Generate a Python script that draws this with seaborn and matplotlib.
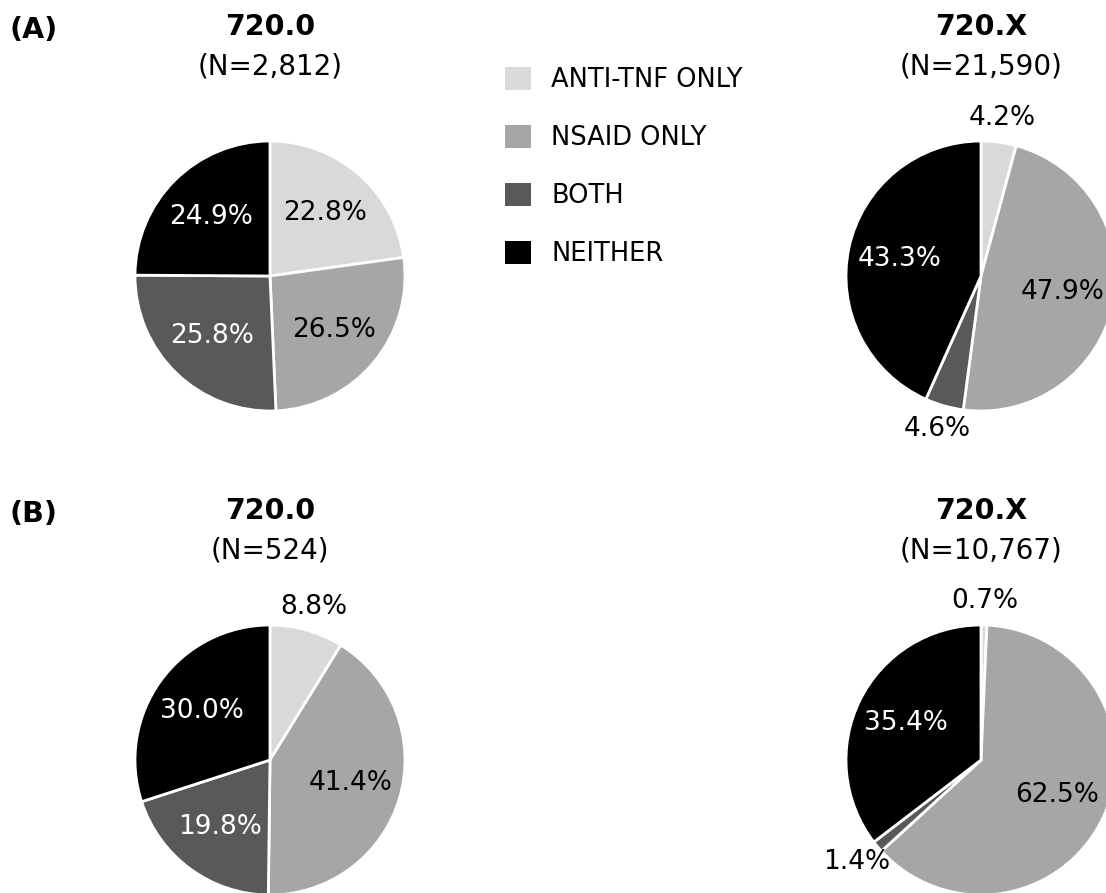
import numpy as np
import pandas as pd
import matplotlib
matplotlib.use("Agg")
import matplotlib.pyplot as plt
from matplotlib.patches import Patch
import seaborn as sns

# ---- data ----
categories = ["ANTI-TNF ONLY", "NSAID ONLY", "BOTH", "NEITHER"]
a_720_0 = [22.8, 26.5, 25.8, 24.9]
a_720_x = [4.2, 47.9, 4.6, 43.3]
b_720_0 = [8.8, 41.4, 19.8, 30.0]
b_720_x = [0.7, 62.5, 1.4, 35.4]
titles = ["720.0", "720.X", "720.0", "720.X"]
n_labels = ["(N=2,812)", "(N=21,590)", "(N=524)", "(N=10,767)"]
panel_labels = ["(A)", "(B)"]

sns.set_theme(style="white")
plt.rcParams['font.family'] = ['DejaVu Sans']
plt.rcParams['text.color'] = 'black'

palette = sns.color_palette(["#d9d9d9", "#a6a6a6", "#595959", "#000000"])
text_colors = ["black", "black", "white", "white"]

W, H = 1106, 893
fig = plt.figure(figsize=(W / 100, H / 100), dpi=100)
fig.patch.set_facecolor("white")

R = 135
centers = [(270, 276), (981, 276), (270, 760), (981, 760)]
datasets = [a_720_0, a_720_x, b_720_0, b_720_x]

for (cx, cy), vals, t, n in zip(centers, datasets, titles, n_labels):
    ax = fig.add_axes([(cx - R) / W, 1 - (cy + R) / H, 2 * R / W, 2 * R / H])
    wedges, _, autotexts = ax.pie(
        vals, colors=palette, startangle=90, counterclock=False, radius=1,
        autopct="%.1f%%", pctdistance=0.62,
        wedgeprops=dict(edgecolor="white", linewidth=2),
        textprops=dict(fontsize=19))
    ax.set_xlim(-1, 1)
    ax.set_ylim(-1, 1)
    ax.set_aspect("equal")
    ax.axis("off")
    for w in wedges:
        w.set_clip_on(False)
    for i, (w, txt, v) in enumerate(zip(wedges, autotexts, vals)):
        txt.set_color(text_colors[i])
        txt.set_clip_on(False)
        if v < 10:
            mid = np.deg2rad((w.theta1 + w.theta2) / 2)
            txt.set_position((1.2 * np.cos(mid), 1.18 * np.sin(mid)))
            txt.set_color("black")
    fig.text(cx / W, 1 - (cy - 249) / H, t, ha="center", va="center",
             fontsize=20.5, fontweight="bold", color="black")
    fig.text(cx / W, 1 - (cy - 209) / H, n, ha="center", va="center",
             fontsize=20, color="black")

for lab, cy in zip(panel_labels, [276, 760]):
    fig.text(10 / W, 1 - (cy - 246) / H, lab, ha="left", va="center",
             fontsize=20.5, fontweight="bold", color="black")

handles = [Patch(facecolor=c, edgecolor="none") for c in palette]
fig.legend(handles=handles, labels=categories, loc="upper left",
           bbox_to_anchor=(505 / W, 1 - 67 / H), frameon=False,
           fontsize=18.5, handlelength=1.0, handleheight=1.0,
           handletextpad=0.8, labelspacing=1.23, borderpad=0,
           borderaxespad=0, labelcolor="black")

fig.savefig("out.png", dpi=100, facecolor="white")
